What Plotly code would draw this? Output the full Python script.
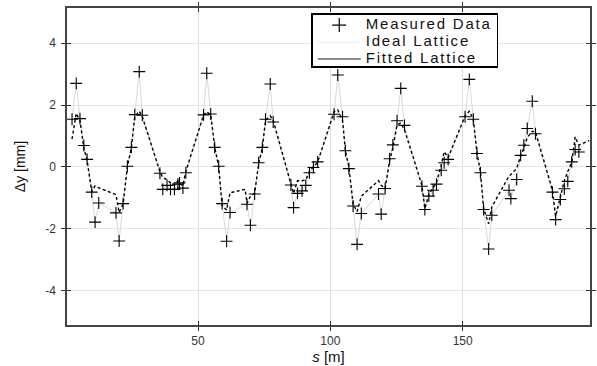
import plotly.graph_objects as go

# Measured BPM data (s [m], dy [mm])
meas_s = [2.4, 4.0, 5.4, 6.85, 8.1, 9.85, 11.1, 12.5, 19.0, 20.2, 21.7, 23.3, 24.8, 26.1, 27.8, 28.95,
          35.6, 36.7, 38.3, 39.6, 41.1, 42.4, 43.0, 44.3, 45.4, 52.1, 53.3, 54.8, 56.3, 57.8, 59.1, 60.8, 62.1,
          68.5, 69.8, 71.4, 72.9, 74.3, 75.5, 77.3, 78.4, 85.1, 86.1, 87.6, 89.3, 90.7, 92.1, 93.6, 95.2,
          101.4, 102.8, 104.6, 105.7, 107.0, 108.6, 110.1, 111.7, 118.2, 119.2, 120.7, 122.4, 123.6, 125.2,
          126.6, 128.0, 134.6, 135.7, 137.2, 138.8, 140.1, 141.9, 143.0, 144.5, 150.9, 152.5, 154.0, 155.4,
          156.7, 157.9, 159.8, 161.0, 167.5, 168.2, 170.4, 171.9, 173.1, 174.4, 176.3, 177.5, 183.9, 185.1,
          186.9, 188.4, 189.7, 191.2, 192.5, 193.9]
meas_y = [1.54, 2.70, 1.56, 0.69, 0.24, -0.82, -1.79, -1.17, -1.49, -2.40, -1.19, 0.02, 0.63, 1.69, 3.08, 1.67,
          -0.21, -0.73, -0.60, -0.73, -0.73, -0.56, -0.52, -0.69, -0.19, 1.68, 3.03, 1.71, 0.63, 0.02, -1.19, -2.41, -1.48,
          -1.21, -1.89, -0.88, 0.13, 0.63, 1.54, 2.68, 1.45, -0.59, -1.32, -0.86, -0.78, -0.60, -0.19, -0.02, 0.16,
          1.70, 2.97, 1.62, 0.52, -0.06, -1.27, -2.51, -1.51, -0.88, -1.53, -0.70, 0.26, 0.71, 1.49,
          2.54, 1.34, -0.63, -1.38, -0.95, -0.76, -0.56, -0.11, 0.13, 0.24, 1.62, 2.83, 1.54, 0.43,
          -0.19, -1.38, -2.66, -1.57, -0.76, -1.03, -0.41, 0.37, 0.70, 1.24, 2.12, 1.07, -0.82, -1.71,
          -1.06, -0.71, -0.47, 0.16, 0.56, 0.48]

# Ideal lattice (light grey line)
ideal_s = meas_s + [197.8]
ideal_y = meas_y + [1.00]

# Fitted lattice (dashed line)
fit_s = [2.4, 4.0, 5.4, 6.85, 8.1, 9.85, 11.1, 12.5, 19.0, 20.2, 21.7, 23.3, 24.8, 26.1, 27.8, 28.95,
         35.6, 36.7, 38.3, 39.6, 41.1, 42.4, 43.0, 44.3, 45.4, 52.1, 53.3, 54.8, 56.3, 57.8, 59.1, 60.8, 62.1,
         67.8, 68.5, 69.8, 71.4, 72.9, 74.3, 75.5, 77.3, 78.4, 85.1, 86.1, 87.6, 89.3, 90.7, 92.1, 93.6, 95.2,
         101.4, 102.8, 104.6, 105.7, 107.0, 108.6, 110.1, 111.7, 118.2, 119.2, 120.7, 122.4, 123.6, 125.2,
         126.6, 128.0, 134.6, 135.7, 137.2, 138.8, 140.1, 141.9, 143.0, 144.5, 150.9, 152.5, 154.0, 155.4,
         156.7, 157.9, 159.8, 161.0, 167.5, 168.2, 170.4, 171.9, 173.1, 174.4, 176.3, 177.5, 183.9, 185.1,
         186.9, 188.4, 189.7, 191.2, 192.5, 193.9, 197.8]
fit_y = [0.90, 1.73, 1.50, 0.62, 0.20, -0.80, -0.62, -0.68, -0.90, -1.48, -1.20, 0.00, 0.60, 1.62, 1.80, 1.62,
         -0.15, -0.35, -0.42, -0.52, -0.60, -0.45, -0.55, -0.60, -0.15, 1.68, 1.78, 1.68, 0.65, 0.00, -1.25, -1.40, -0.84,
         -0.73, -1.18, -0.95, -0.85, 0.10, 0.60, 1.50, 1.65, 1.50, -0.55, -0.86, -0.45, -0.45, -0.42, -0.15, 0.00, 0.15,
         1.78, 1.84, 1.50, 0.50, 0.00, -1.20, -1.45, -0.95, -0.45, -0.60, -0.70, 0.20, 0.60, 1.35,
         1.42, 1.20, -0.60, -1.35, -0.90, -0.70, -0.50, 0.05, 0.49, 0.30, 1.65, 1.80, 1.55, 0.45,
         -0.15, -1.35, -1.84, -1.30, -0.30, -0.25, -0.05, 0.35, 0.60, 0.95, 1.15, 1.13, -0.75, -1.60,
         -0.95, -0.45, -0.15, 0.15, 0.97, 0.70, 0.85]

x_ticks = [50, 100, 150]
y_ticks = [-4, -2, 0, 2, 4]
y_ticktext = ["-4", "-2", "0", "2", "4"]

legend_names = ["Measured Data", "Ideal Lattice", "Fitted Lattice"]

font_family = "Liberation Sans, Arial, sans-serif"


def legend_label(t):
    return "<span style='font-size:15px;letter-spacing:1.8px'>" + t + "</span>"


fig = go.Figure()
fig.add_trace(go.Scatter(x=ideal_s, y=ideal_y, mode="lines", name=legend_names[1],
                         line=dict(color="#d9d9d9", width=1), showlegend=False))
fig.add_trace(go.Scatter(x=fit_s, y=fit_y, mode="lines", name=legend_names[2],
                         line=dict(color="black", width=1.4, dash="3px,2.5px"), showlegend=False))
fig.add_trace(go.Scatter(x=meas_s, y=meas_y, mode="markers", name=legend_names[0],
                         marker=dict(symbol="cross-thin", size=8.5, line=dict(color="black", width=1.1)),
                         showlegend=False))
# legend entries
fig.add_trace(go.Scatter(x=[None], y=[None], mode="markers", name=legend_label(legend_names[0]),
                         marker=dict(symbol="cross-thin", size=10, line=dict(color="black", width=1.2))))
fig.add_trace(go.Scatter(x=[None], y=[None], mode="lines", name=legend_label(legend_names[1]),
                         line=dict(color="#e8e8e8", width=1)))
fig.add_trace(go.Scatter(x=[None], y=[None], mode="lines", name=legend_label(legend_names[2]),
                         line=dict(color="#666666", width=1.6)))
# helper trace for crossing ticks
fig.add_trace(go.Scatter(x=[None], y=[None], xaxis="x2", yaxis="y2", showlegend=False, hoverinfo="skip"))

xr = [0.5, 198.1]
yr = [-5.12, 5.14]
common_axis = dict(showline=True, linecolor="#444444", linewidth=1.5, zeroline=False,
                   tickcolor="#333333", tickwidth=1.2, ticklen=4)

fig.update_layout(
    width=597, height=366,
    margin=dict(l=67, r=1, t=8, b=41),
    paper_bgcolor="white", plot_bgcolor="white",
    font=dict(family=font_family, color="#222222"),
    xaxis=dict(range=xr, tickvals=x_ticks, ticks="outside", mirror="ticks",
               showgrid=True, gridcolor="#dcdcec", gridwidth=1,
               tickfont=dict(size=12, color="#333333"),
               title=dict(text="<i>s</i> [m]", font=dict(size=15, color="#111111"), standoff=3),
               **common_axis),
    yaxis=dict(range=yr, tickvals=y_ticks, ticktext=y_ticktext, ticks="outside", mirror="ticks",
               showgrid=True, gridcolor="#e4e4ea", gridwidth=1,
               tickfont=dict(size=12, color="#333333"), ticklabelstandoff=3,
               title=dict(text="Δy [mm]", font=dict(size=14, color="#111111"), standoff=16),
               **common_axis),
    xaxis2=dict(range=xr, tickvals=x_ticks, ticks="inside", mirror="ticks", overlaying="x",
                showticklabels=False, showgrid=False, anchor="y2", **common_axis),
    yaxis2=dict(range=yr, tickvals=y_ticks, ticks="inside", mirror="ticks", overlaying="y",
                showticklabels=False, showgrid=False, anchor="x2", **common_axis),
    legend=dict(x=0.467, y=0.984, xanchor="left", yanchor="top",
                bgcolor="white", bordercolor="black", borderwidth=1.5,
                font=dict(size=10, color="#111111", family=font_family),
                tracegroupgap=0, itemwidth=43),
)

# tighten legend row spacing (rows of 17 px as in the original figure)
post_js = """
var gd = document.getElementById('{plot_id}');
function tightenLegend() {
  var lg = gd.querySelector('g.legend');
  if (!lg) return;
  var rows = lg.querySelectorAll('g.traces');
  var ys = [12, 29, 46];
  rows.forEach(function (t, i) {
    var tf = t.getAttribute('transform') || '';
    var m = /translate\\(\\s*([-0-9.e]+)/.exec(tf);
    var x = m ? m[1] : 1.5;
    t.setAttribute('transform', 'translate(' + x + ',' + ys[i] + ')');
  });
  var bg = lg.querySelector('rect.bg');
  if (bg) bg.setAttribute('height', 53);
}
tightenLegend();
gd.on('plotly_afterplot', tightenLegend);
"""

fig.write_html("out.html", post_script=post_js)
